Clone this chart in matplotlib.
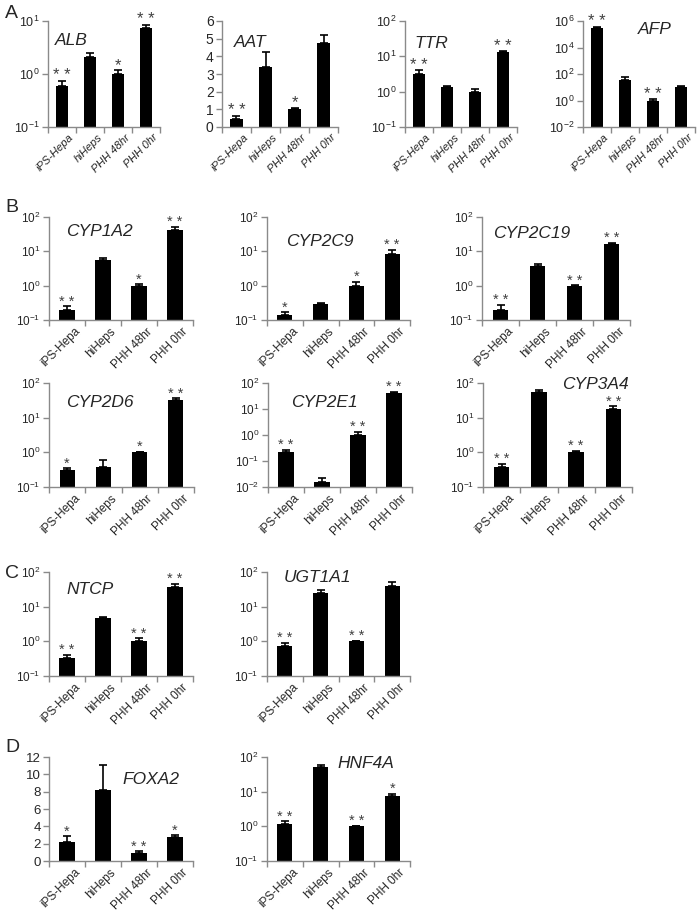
import numpy as np
import matplotlib
matplotlib.use("Agg")
import matplotlib.pyplot as plt
from matplotlib.ticker import FixedLocator, FuncFormatter, NullLocator
import matplotlib.transforms as mtrans

plt.rcParams['font.family'] = ['Liberation Sans', 'DejaVu Sans']
plt.rcParams['mathtext.fontset'] = 'custom'
plt.rcParams['mathtext.rm'] = 'Liberation Sans'
plt.rcParams['mathtext.it'] = 'Liberation Sans:italic'

# ---------------- data ----------------
categories = ["iPS-Hepa", "hiHeps", "PHH 48hr", "PHH 0hr"]

alb_mean = [0.59, 2.1, 1.0, 7.5]
alb_err = [0.74, 2.5, 1.17, 8.4]
alb_sig = ["**", "", "*", "**"]
alb_yticks = [0.1, 1, 10]

aat_mean = [0.48, 3.42, 1.0, 4.77]
aat_err = [0.65, 4.25, 1.08, 5.2]
aat_sig = ["**", "", "*", ""]
aat_yticks = [0, 1, 2, 3, 4, 5, 6]

ttr_mean = [3.2, 1.35, 1.0, 13.0]
ttr_err = [4.0, 1.45, 1.2, 13.8]
ttr_sig = ["**", "", "", "**"]
ttr_yticks = [0.1, 1, 10, 100]

afp_mean = [2.8e5, 38, 1.0, 10]
afp_err = [3.5e5, 60, 1.2, 12]
afp_sig = ["**", "", "**", ""]
afp_yticks = [1e-2, 1, 1e2, 1e4, 1e6]

cyp1a2_mean = [0.19, 5.5, 1.0, 42]
cyp1a2_err = [0.25, 6.5, 1.12, 52]
cyp1a2_sig = ["**", "", "*", "**"]

cyp2c9_mean = [0.14, 0.29, 1.0, 8.4]
cyp2c9_err = [0.17, 0.32, 1.3, 11]
cyp2c9_sig = ["*", "", "*", "**"]

cyp2c19_mean = [0.19, 3.8, 1.0, 16.6]
cyp2c19_err = [0.27, 4.3, 1.03, 17.8]
cyp2c19_sig = ["**", "", "**", "**"]

cyp2d6_mean = [0.30, 0.38, 1.0, 32]
cyp2d6_err = [0.35, 0.6, 1.04, 36]
cyp2d6_sig = ["*", "", "*", "**"]

cyp2e1_mean = [0.22, 0.016, 1.0, 42]
cyp2e1_err = [0.27, 0.022, 1.35, 45]
cyp2e1_sig = ["**", "", "**", "**"]

cyp3a4_mean = [0.39, 55, 1.0, 18]
cyp3a4_err = [0.46, 62, 1.1, 21]
cyp3a4_sig = ["**", "", "**", "**"]

ntcp_mean = [0.33, 4.7, 1.0, 38]
ntcp_err = [0.41, 5.1, 1.22, 45]
ntcp_sig = ["**", "", "**", "**"]

ugt1a1_mean = [0.75, 25, 1.0, 40]
ugt1a1_err = [0.89, 30, 1.04, 50]
ugt1a1_sig = ["**", "", "**", ""]

foxa2_mean = [2.2, 8.15, 0.96, 2.77]
foxa2_err = [2.85, 11.07, 1.12, 2.96]
foxa2_sig = ["*", "", "**", "*"]
foxa2_yticks = [0, 2, 4, 6, 8, 10, 12]

hnf4a_mean = [1.17, 52, 1.0, 7.5]
hnf4a_err = [1.39, 60, 1.05, 8.7]
hnf4a_sig = ["**", "", "**", "*"]

log_yticks_3 = [0.1, 1, 10, 100]
log_yticks_4 = [0.01, 0.1, 1, 10, 100]

# ---------------- figure ----------------
W, H = 700, 919
fig = plt.figure(figsize=(W / 100, H / 100), dpi=100)

SPINE = '#8a8a8a'
TXT = '#262626'


def add_ax(x0, x1, yt, yb):
    return fig.add_axes([x0 / W, 1 - yb / H, (x1 - x0) / W, (yb - yt) / H])


def logfmt(v, pos):
    return r'$\mathregular{10^{%d}}$' % int(round(np.log10(v)))


def draw(box, mean, err, sig, yticks, gene, gpos, log=True, ylim=None,
         tick_fs=8.5, xlab_fs=8.5, xlab_italic=False, star_fs=10.5,
         gene_fs=12.5, width=0.42):
    ax = add_ax(*box)
    x = np.arange(len(categories))
    mean = np.asarray(mean, float)
    err = np.asarray(err, float)
    if log:
        ax.set_yscale('log')
    ax.bar(x, mean, width=width, color='black', zorder=2)
    ax.errorbar(x, mean, yerr=[np.zeros_like(mean), err - mean], fmt='none',
                ecolor='black', elinewidth=1.2, capsize=3.2, capthick=1.2,
                zorder=3)
    for i, s in enumerate(sig):
        if s:
            ax.annotate(' '.join(s), (x[i], err[i]), xytext=(0, 0.5),
                        textcoords='offset points', ha='center',
                        va='baseline', fontsize=star_fs, color='#404040',
                        annotation_clip=False)
    ax.set_xlim(-0.5, len(categories) - 0.5)
    ax.set_ylim(ylim if ylim else (yticks[0], yticks[-1]))
    ax.yaxis.set_major_locator(FixedLocator(yticks))
    ax.yaxis.set_minor_locator(NullLocator())
    if log:
        ax.yaxis.set_major_formatter(FuncFormatter(logfmt))
    for s in ['top', 'right']:
        ax.spines[s].set_visible(False)
    for s in ['left', 'bottom']:
        ax.spines[s].set_color(SPINE)
        ax.spines[s].set_linewidth(1.0)
    ax.tick_params(axis='y', which='major', direction='out', length=4,
                   width=1, color=SPINE, labelsize=tick_fs, labelcolor=TXT,
                   pad=2)
    # boundary ticks on x axis, labels on category centres
    ax.set_xticks(np.arange(-0.5, len(categories), 1.0))
    ax.set_xticklabels([])
    ax.tick_params(axis='x', which='major', direction='out', length=4,
                   width=1, color=SPINE)
    ax.set_xticks(x, minor=True)
    labs = ax.set_xticklabels(categories, minor=True, rotation=45,
                              ha='right', rotation_mode='anchor',
                              fontsize=xlab_fs, color=TXT,
                              style='italic' if xlab_italic else 'normal')
    ax.tick_params(axis='x', which='minor', length=0, pad=4)
    off = mtrans.ScaledTranslation(5 / 72, 0, fig.dpi_scale_trans)
    for t in labs:
        t.set_transform(t.get_transform() + off)
    ax.text(gpos[0], gpos[1], gene, transform=ax.transAxes, ha='left',
            va='center', fontsize=gene_fs, style='italic', color=TXT)
    return ax


rowA = (21, 127)
draw((48, 160) + rowA, alb_mean, alb_err, alb_sig, alb_yticks, 'ALB',
     (0.06, 0.82), tick_fs=9, xlab_fs=8, xlab_italic=True, star_fs=12,
     width=0.46)
draw((222, 338) + rowA, aat_mean, aat_err, aat_sig, aat_yticks, 'AAT',
     (0.1, 0.80), log=False, tick_fs=10, xlab_fs=8, xlab_italic=True,
     star_fs=12, width=0.46)
draw((405, 517) + rowA, ttr_mean, ttr_err, ttr_sig, ttr_yticks, 'TTR',
     (0.08, 0.79), tick_fs=9, xlab_fs=8, xlab_italic=True, star_fs=12,
     width=0.46)
draw((583, 695) + rowA, afp_mean, afp_err, afp_sig, afp_yticks, 'AFP',
     (0.49, 0.92), tick_fs=9, xlab_fs=8, xlab_italic=True, star_fs=12,
     width=0.46)

rowB1 = (217, 320)
draw((49, 193) + rowB1, cyp1a2_mean, cyp1a2_err, cyp1a2_sig, log_yticks_3,
     'CYP1A2', (0.12, 0.86))
draw((267, 410) + rowB1, cyp2c9_mean, cyp2c9_err, cyp2c9_sig, log_yticks_3,
     'CYP2C9', (0.13, 0.76))
draw((482, 630) + rowB1, cyp2c19_mean, cyp2c19_err, cyp2c19_sig,
     log_yticks_3, 'CYP2C19', (0.075, 0.84))

rowB2 = (383, 487)
draw((49, 194) + rowB2, cyp2d6_mean, cyp2d6_err, cyp2d6_sig, log_yticks_3,
     'CYP2D6', (0.12, 0.81))
draw((268, 412) + rowB2, cyp2e1_mean, cyp2e1_err, cyp2e1_sig, log_yticks_4,
     'CYP2E1', (0.16, 0.81))
draw((483, 632) + rowB2, cyp3a4_mean, cyp3a4_err, cyp3a4_sig, log_yticks_3,
     'CYP3A4', (0.53, 0.99))

rowC = (572, 676)
draw((49, 193) + rowC, ntcp_mean, ntcp_err, ntcp_sig, log_yticks_3,
     'NTCP', (0.12, 0.83))
draw((267, 410) + rowC, ugt1a1_mean, ugt1a1_err, ugt1a1_sig, log_yticks_3,
     'UGT1A1', (0.12, 0.95))

rowD = (757, 861)
draw((49, 193) + rowD, foxa2_mean, foxa2_err, foxa2_sig, foxa2_yticks,
     'FOXA2', (0.51, 0.78), log=False, tick_fs=9.5)
draw((267, 410) + rowD, hnf4a_mean, hnf4a_err, hnf4a_sig, log_yticks_3,
     'HNF4A', (0.49, 0.94))

for letter, yy in [('A', 13), ('B', 207), ('C', 574), ('D', 747)]:
    fig.text(5 / W, 1 - yy / H, letter, fontsize=14, va='center', ha='left',
             color=TXT)

fig.savefig('out.png', dpi=100)
